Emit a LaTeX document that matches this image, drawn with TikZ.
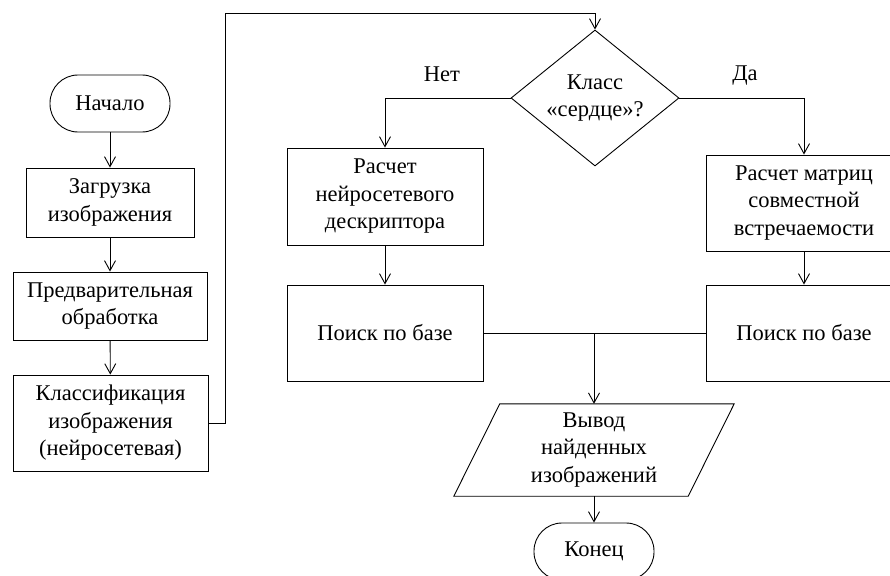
\documentclass[tikz,border=0pt]{standalone}
\usepackage{fontspec}
\setmainfont{Liberation Serif}
\newfontfamily\rusfont{Liberation Serif}
\usetikzlibrary{arrows.meta,shapes.geometric}
\newcommand\fsz{\rusfont\fontsize{22.5}{27.5}\selectfont}
\tikzset{
  base/.style={draw=black, line width=0.9pt, inner sep=0pt, align=center, font=\fsz},
  procbox/.style={base, rectangle},
  termbox/.style={base, rectangle, rounded corners=28pt, minimum width=120pt, minimum height=57pt},
  decbox/.style={base, diamond, aspect=1.24, minimum width=168pt, minimum height=136pt},
  conn/.style={line width=0.9pt, draw=black},
  arr/.style={conn, -{Straight Barb[length=10pt,width=11pt,line width=0.9pt]}},
  lbl/.style={font=\fsz, inner sep=0pt}
}
\begin{document}
\begin{tikzpicture}[x=1pt,y=-1pt]
\useasboundingbox (0,0) rectangle (890,575);
% left column
\node[termbox] (start) at (110,103.5) {Начало};
\node[procbox, minimum width=168pt, minimum height=69pt] (load) at (110,202.5) {Загрузка\\изображения};
\node[procbox, minimum width=194pt, minimum height=68pt] (pre) at (110,306) {Предварительная\\обработка};
\node[procbox, minimum width=195pt, minimum height=96pt] (cls) at (110.5,423) {Классификация\\изображения\\(нейросетевая)};
% decision
\node[decbox] (dec) at (595,98) {Класс\\«сердце»?};
% branches
\node[procbox, minimum width=196pt, minimum height=97pt] (lcalc) at (385,196.5) {Расчет\\нейросетевого\\дескриптора};
\node[procbox, minimum width=196pt, minimum height=96pt] (lsearch) at (385,333) {Поиск по базе};
\node[procbox, minimum width=196pt, minimum height=96pt] (rcalc) at (804,203) {Расчет матриц\\совместной\\встречаемости};
\node[procbox, minimum width=196pt, minimum height=96pt] (rsearch) at (804,333) {Поиск по базе};
% output
\node[inner sep=0pt, align=center, font=\fsz, minimum width=280pt, minimum height=92pt] (out) at (594,450) {Вывод\\найденных\\изображений};
\draw[conn] ([xshift=46pt]out.north west) -- (out.north east) -- ([xshift=-46pt]out.south east) -- (out.south west) -- cycle;
\node[termbox] (end) at (594,551.5) {Конец};
% labels
\node[lbl] (no) at (442,74) {Нет};
\node[lbl] (yes) at (745,76) {Да};
% coordinates
\coordinate (t1) at (225,13);
\coordinate (t2) at (595,13);
\coordinate (j) at (lsearch.east -| out.north);
% connectors
\draw[arr] (start) -- (load);
\draw[arr] (load) -- (pre);
\draw[arr] (pre) -- (cls);
\draw[arr] (cls.east) -| (t1) -- (t2) -- (dec.north);
\draw[arr] (dec.west) -| (lcalc.north);
\draw[arr] (dec.east) -| (rcalc.north);
\draw[arr] (lcalc) -- (lsearch);
\draw[arr] (rcalc) -- (rsearch);
\draw[conn] (lsearch.east) -- (rsearch.west);
\draw[arr] (j) -- (out.north);
\draw[arr] (out.south) -- (end.north);
\end{tikzpicture}
\end{document}
